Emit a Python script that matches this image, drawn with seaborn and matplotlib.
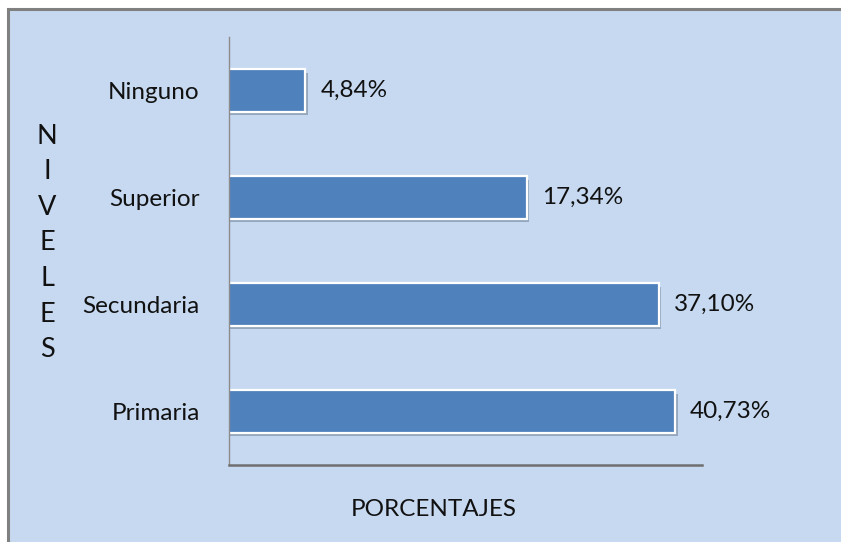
import matplotlib
matplotlib.use("Agg")
import matplotlib.pyplot as plt
import matplotlib.patheffects as pe
from matplotlib.patches import Rectangle
import seaborn as sns
import pandas as pd

niveles = ["Ninguno", "Superior", "Secundaria", "Primaria"]
porcentajes = [4.84, 17.34, 37.10, 40.73]

df = pd.DataFrame({"nivel": niveles, "pct": porcentajes})

sns.set_theme(style="white")
plt.rcParams["font.family"] = ["Lato", "DejaVu Sans"]

BG = "#C6D9F0"
BAR = "#4F81BD"

fig = plt.figure(figsize=(8.41, 5.42), dpi=100)
fig.patch.set_facecolor("white")
fig.patches.append(Rectangle((8 / 841, -0.01), 1.0, 1 - 9 / 542 + 0.01,
                             transform=fig.transFigure, facecolor=BG,
                             edgecolor="#808080", linewidth=2.2, zorder=-5))

ax = fig.add_axes([229 / 841, 1 - 465 / 542, 473 / 841, 428 / 542])
ax.set_facecolor("none")
ax.set_zorder(2)

sns.barplot(data=df, x="pct", y="nivel", order=niveles, orient="h",
            color=BAR, saturation=1, width=0.4, ax=ax,
            edgecolor="white", linewidth=1.6)

ax.set_xscale("log")
ax.set_xlim(3.125, 47.6)
ax.set_ylim(3.5, -0.5)

for p in ax.patches:
    p.set_path_effects([pe.SimplePatchShadow(offset=(2, -2.5), shadow_rgbFace="#3a4a60", alpha=0.35),
                        pe.Normal()])

labels = [f"{v:.2f}".replace(".", ",") + "%" for v in porcentajes]
txts = ax.bar_label(ax.containers[0], labels=labels, padding=11, fontsize=17.5, color="#111111")
for t in txts:
    t.set_va("center")
    t.set_y(t.get_position()[1])

for s in ["top", "right"]:
    ax.spines[s].set_visible(False)
ax.spines["left"].set_color("#8c8c8c")
ax.spines["left"].set_linewidth(1.0)
ax.spines["bottom"].set_color("#6f6f6f")
ax.spines["bottom"].set_linewidth(1.8)

ax.set_xticks([], minor=False)
ax.set_xticks([], minor=True)
ax.tick_params(axis="y", length=0, pad=21, labelsize=17.5, labelcolor="#111111")
ax.set_xlabel("")
ax.set_ylabel("")

fig.text(47 / 841, 1 - 243 / 542, "N\nI\nV\nE\nL\nE\nS", ha="center", va="center",
         fontsize=19.5, linespacing=1.53, color="#111111")
fig.text(434 / 841, 1 - 509 / 542, "PORCENTAJES", ha="center", va="center",
         fontsize=17.5, color="#111111")

fig.savefig("out.png", dpi=100, facecolor=fig.get_facecolor())
